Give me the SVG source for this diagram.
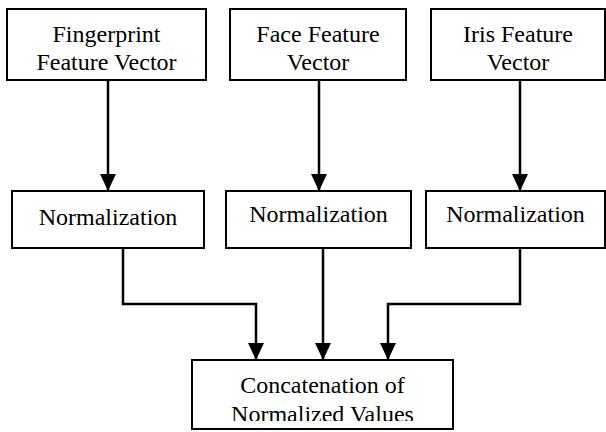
<svg xmlns="http://www.w3.org/2000/svg" width="606" height="432" viewBox="0 0 606 432">
<style>
.box{fill:#fff;stroke:#000;stroke-width:2}
.t{font-family:"Times New Roman","Liberation Serif","DejaVu Serif",serif;font-size:24px;fill:#000;text-anchor:middle}
.c{fill:none;stroke:#000;stroke-width:2.5}
</style>
<defs>
<marker id="ah" markerWidth="17" markerHeight="16" refX="17" refY="8" orient="auto" markerUnits="userSpaceOnUse">
<path d="M0,0 L17,8 L0,16 Z" fill="#000"/>
</marker>
<clipPath id="cb"><rect x="192" y="360" width="261" height="61"/></clipPath>
</defs>
<rect width="606" height="432" fill="#fff"/>
<g id="fingerprint">
<rect class="box" x="7" y="9" width="199" height="71"/>
<text class="t" x="106.5" y="42">Fingerprint</text>
<text class="t" x="106.5" y="70">Feature Vector</text>
</g>
<g id="face">
<rect class="box" x="230" y="9" width="176" height="71"/>
<text class="t" x="318" y="42">Face Feature</text>
<text class="t" x="318" y="70">Vector</text>
</g>
<g id="iris">
<rect class="box" x="431" y="9" width="174" height="71"/>
<text class="t" x="518" y="42">Iris Feature</text>
<text class="t" x="518" y="70">Vector</text>
</g>
<g id="norm1">
<rect class="box" x="12" y="191" width="192" height="57"/>
<text class="t" x="108" y="225">Normalization</text>
</g>
<g id="norm2">
<rect class="box" x="226" y="191" width="185" height="57"/>
<text class="t" x="318.5" y="222">Normalization</text>
</g>
<g id="norm3">
<rect class="box" x="426" y="191" width="179" height="57"/>
<text class="t" x="515.5" y="222">Normalization</text>
</g>
<g id="concat">
<rect class="box" x="192" y="360" width="261" height="69"/>
<g clip-path="url(#cb)">
<text class="t" x="322.5" y="393">Concatenation of</text>
<text class="t" x="322.5" y="422">Normalized Values</text>
</g>
</g>
<g id="connectors">
<path class="c" d="M108,80 V191" marker-end="url(#ah)"/>
<path class="c" d="M319,80 V191" marker-end="url(#ah)"/>
<path class="c" d="M520,80 V191" marker-end="url(#ah)"/>
<path class="c" d="M123,248 V304 H256 V360" marker-end="url(#ah)"/>
<path class="c" d="M323,248 V360" marker-end="url(#ah)"/>
<path class="c" d="M520,248 V304 H388 V360" marker-end="url(#ah)"/>
</g>
</svg>
